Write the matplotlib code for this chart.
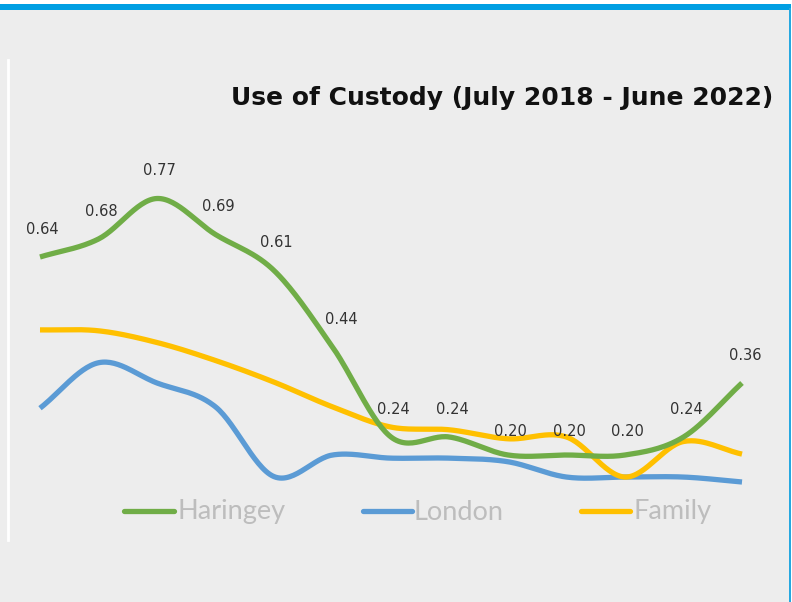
import numpy as np
import matplotlib
matplotlib.use("Agg")
import matplotlib.pyplot as plt
from matplotlib.patches import Rectangle
from matplotlib.lines import Line2D

# ---- data ----
periods = list(range(13))
haringey = [0.64, 0.68, 0.77, 0.69, 0.61, 0.44, 0.24, 0.24, 0.20, 0.20, 0.20, 0.24, 0.36]
london = [0.304, 0.405, 0.360, 0.307, 0.152, 0.200, 0.193, 0.193, 0.185, 0.151, 0.151, 0.151, 0.140]
family = [0.478, 0.476, 0.450, 0.410, 0.362, 0.307, 0.262, 0.256, 0.236, 0.240, 0.151, 0.230, 0.202]
haringey_labels = ["0.64", "0.68", "0.77", "0.69", "0.61", "0.44", "0.24", "0.24",
                   "0.20", "0.20", "0.20", "0.24", "0.36"]
series_names = ["Haringey", "London", "Family"]
title = "Use of Custody (July 2018 - June 2022)"

GREEN = "#70AD47"
BLUE = "#5B9BD5"
YELLOW = "#FFC000"
BG = "#EDEDED"


def catmull_rom(x, y, n=30):
    x = np.asarray(x, float)
    y = np.asarray(y, float)
    px = np.concatenate([[2 * x[0] - x[1]], x, [2 * x[-1] - x[-2]]])
    py = np.concatenate([[2 * y[0] - y[1]], y, [2 * y[-1] - y[-2]]])
    xs, ys = [], []
    t = np.linspace(0, 1, n, endpoint=False)
    for i in range(1, len(px) - 2):
        p0, p1, p2, p3 = py[i - 1], py[i], py[i + 1], py[i + 2]
        q0, q1, q2, q3 = px[i - 1], px[i], px[i + 1], px[i + 2]
        def cr(a0, a1, a2, a3):
            return 0.5 * ((2 * a1) + (-a0 + a2) * t + (2 * a0 - 5 * a1 + 4 * a2 - a3) * t ** 2
                          + (-a0 + 3 * a1 - 3 * a2 + a3) * t ** 3)
        xs.append(cr(q0, q1, q2, q3))
        ys.append(cr(p0, p1, p2, p3))
    xs.append([x[-1]])
    ys.append([y[-1]])
    return np.concatenate(xs), np.concatenate(ys)


W, H = 792, 602
fig = plt.figure(figsize=(W / 100, H / 100), dpi=100, facecolor=BG)

# pixel mapping: x index i -> 40 + 58.5*i ; value v -> 545 - 450*v (from top)
x0, dx = 40.0, 58.5
ybase, yscale = 545.0, 450.0
ax = fig.add_axes([0, 0, 1, 1])
ax.set_xlim((0 - x0) / dx, (W - x0) / dx)
ax.set_ylim((ybase - H) / yscale, ybase / yscale)
ax.axis("off")
ax.patch.set_alpha(0)

# white faint line at left
fig.add_artist(Line2D([7.5 / W, 7.5 / W], [1 - 60 / H, 1 - 540 / H], color="white",
                      lw=2, transform=fig.transFigure))

for vals, col, z in [(london, BLUE, 2), (family, YELLOW, 3), (haringey, GREEN, 4)]:
    sx, sy = catmull_rom(periods, vals)
    ax.plot(sx, sy, color=col, lw=3.8, solid_capstyle="butt", zorder=z)

for i, (v, lab) in enumerate(zip(haringey, haringey_labels)):
    dxo = 6 if lab == "0.44" and i == 5 else 2
    dyo = 17 if v <= 0.20 else 20
    ax.annotate(lab, (i, v), xytext=(dxo, dyo), textcoords="offset points",
                ha="center", va="center", fontsize=10.5, color="#333333",
                family="DejaVu Sans", zorder=6)

# title
fig.text(773 / W, 1 - 98 / H, title, ha="right", va="center", fontsize=18,
         fontweight="bold", color="#111111", family="DejaVu Sans")

# legend (manual)
leg_y = 1 - 511 / H
for (x1, x2, tx), name, col in zip([(124, 174, 177), (363, 412, 414), (581, 630, 633)],
                                    series_names, [GREEN, BLUE, YELLOW]):
    fig.add_artist(Line2D([x1 / W, x2 / W], [leg_y, leg_y], color=col, lw=3.8,
                          solid_capstyle="round", transform=fig.transFigure))
    fig.text(tx / W, leg_y - 1 / H, name, ha="left", va="center", fontsize=19.5,
             color="#BDBDBD", family="Lato")

# top blue bar and right border
fig.add_artist(Rectangle((0, 1 - 9.5 / H), 1, 5.5 / H, color="#009FE3",
                         transform=fig.transFigure, lw=0))
fig.add_artist(Rectangle((0, 1 - 4 / H), 1, 4 / H, color="white",
                         transform=fig.transFigure, lw=0))
fig.add_artist(Rectangle((789 / W, 0), 2 / W, 1 - 8 / H, color="#26A8E0",
                         transform=fig.transFigure, lw=0))
fig.add_artist(Rectangle((791 / W, 0), 1 / W, 1, color="white",
                         transform=fig.transFigure, lw=0))

fig.savefig("out.png", dpi=100, facecolor=BG)
